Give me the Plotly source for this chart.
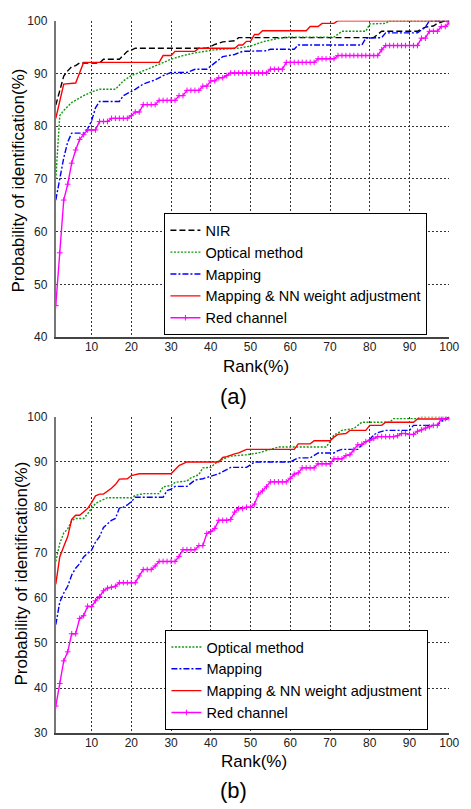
import plotly.graph_objects as go

FONT = "Arial, 'Liberation Sans', sans-serif"

# ---------------- Panel (a) ----------------
a_nir_x = [1, 2, 3, 4, 5, 6, 7, 12, 13, 17, 19, 20, 21, 39, 41, 43, 46, 47, 81, 83, 92, 94, 96, 97, 99, 100]
a_nir_y = [84, 87, 89.5, 90.5, 91.3, 91.5, 92, 92, 92.7, 92.7, 94.2, 94.4, 94.8, 94.8, 95.5, 96, 96.2, 96.8, 96.8, 98, 98, 98.8, 99, 99.5, 100, 100]

a_opt_x = [1, 2, 3, 5, 8, 10, 12, 16, 18, 20, 24, 27, 30, 33, 36, 41, 47, 50, 53, 56, 59, 71, 73, 79, 80, 84, 85, 100]
a_opt_y = [70, 82, 83, 84.5, 85.8, 86.5, 87, 87, 88.6, 89.6, 90.8, 91.7, 92.7, 93.4, 93.9, 94.5, 94.8, 95.2, 96, 96.5, 96.9, 96.9, 98, 98, 99.4, 99.5, 100, 100]

a_map_x = [1, 2, 3, 4, 5, 8, 9, 10, 11, 12, 17, 18, 19, 21, 23, 26, 28, 30, 34, 36, 39, 41, 43, 46, 48, 54, 55, 61, 62, 78, 79, 83, 84, 92, 94, 95, 100]
a_map_y = [66, 70, 74, 77, 78.7, 78.7, 79.5, 81, 83.5, 84.7, 84.7, 85.8, 86.2, 87, 88, 88.8, 89.6, 90.2, 90.2, 90.8, 90.8, 92, 93.2, 93.6, 94.2, 94.3, 94.6, 94.6, 95.4, 95.4, 96.7, 96.8, 97.7, 97.7, 98.8, 100, 100]

a_nn_x = [1, 2, 3, 6, 7, 8, 27, 28, 30, 31, 36, 37, 46, 47, 48, 49, 50, 51, 52, 53, 64, 65, 67, 68, 71, 72, 100]
a_nn_y = [81.5, 85, 88, 88.2, 90.2, 92.1, 92.1, 93.4, 93.4, 94.2, 94.2, 94.8, 94.8, 95.4, 95.4, 96.1, 96.1, 97.4, 97.4, 98.1, 98.1, 98.9, 98.9, 99.5, 99.5, 100, 100]

rank_x = list(range(1, 101))
a_red_y = [46, 56, 66, 69, 73, 75.5, 77.5, 78.4, 79.3, 79.3,
           79.3, 80.9, 80.9, 80.9, 81.5, 81.5, 81.5, 81.5, 81.5, 82,
           82.7, 82.7, 84.1, 84.1, 84.1, 84.1, 84.9, 84.9, 84.9, 84.9,
           84.9, 85.8, 85.8, 86.8, 86.8, 86.8, 86.8, 87.6, 87.6, 88.6,
           88.6, 89.2, 89.2, 89.6, 90.1, 90.1, 90.1, 90.1, 90.1, 90.1,
           90.1, 90.1, 90.1, 90.1, 90.8, 90.8, 90.8, 90.8, 92.1, 92.1,
           92.1, 92.1, 92.1, 92.1, 92.1, 92.1, 92.8, 92.8, 92.8, 92.8,
           92.8, 93.4, 93.4, 93.4, 93.4, 93.4, 93.4, 93.4, 93.4, 93.4,
           93.4, 93.4, 94.5, 95.3, 95.3, 95.3, 95.3, 95.3, 95.3, 95.3,
           95.3, 95.3, 96.7, 96.7, 98, 98, 98, 98.9, 98.9, 99.6]

# ---------------- Panel (b) ----------------
b_opt_x = [1, 2, 3, 4, 5, 6, 8, 9, 10, 11, 12, 14, 20, 21, 23, 27, 28, 30, 31, 34, 35, 37, 38, 40, 41, 42, 44, 45, 49, 52, 55, 57, 69, 70, 71, 72, 73, 76, 77, 78, 85, 86, 92, 93, 100]
b_opt_y = [68, 72, 74.3, 75.2, 77, 77.5, 77.5, 78.5, 79.8, 80.8, 81.3, 82.1, 82.1, 82.6, 83, 83, 84.5, 84.8, 85.5, 85.8, 86.5, 87.2, 88.7, 88.8, 89.6, 90.2, 91, 91.3, 91.6, 92, 92.8, 93.3, 93.3, 94.5, 96, 96.4, 97, 97.4, 98.1, 98.8, 98.8, 99.6, 99.6, 100, 100]

b_map_x = [1, 2, 3, 4, 5, 6, 7, 8, 9, 10, 11, 12, 13, 14, 15, 16, 17, 18, 19, 20, 21, 28, 29, 30, 31, 34, 35, 36, 38, 40, 42, 44, 45, 49, 50, 51, 60, 61, 62, 65, 67, 71, 72, 73, 77, 78, 80, 81, 82, 84, 90, 91, 97, 98, 100]
b_map_y = [54, 59, 61, 62.5, 65, 66.5, 67.5, 69, 69.8, 70.5, 72.3, 73.5, 75.5, 76.3, 77.1, 77.5, 79.8, 80, 80.5, 81.2, 82.2, 82.2, 83.7, 84, 84.6, 84.6, 85.3, 86, 86.3, 86.8, 87.4, 88.3, 88.8, 88.8, 89.5, 90, 90, 90.5, 90.9, 90.9, 92, 92, 92.5, 92.8, 92.8, 93.8, 95, 96, 96.5, 97, 97, 98.1, 98.1, 99, 99.7]

b_nn_x = [1, 2, 3, 4, 5, 6, 7, 9, 10, 11, 12, 13, 15, 16, 17, 19, 20, 22, 30, 31, 32, 34, 42, 43, 44, 46, 47, 49, 61, 62, 65, 66, 70, 71, 72, 74, 75, 79, 80, 83, 84, 91, 92, 99, 100]
b_nn_y = [63, 69, 71.3, 73.5, 77.3, 78.2, 78.2, 79.7, 81, 82.5, 82.9, 82.9, 84.2, 85, 86.2, 86.3, 87, 87.4, 87.4, 88.3, 89.2, 90, 90, 91, 91.2, 91.8, 92, 92.8, 92.8, 94, 94, 94.7, 94.7, 95.5, 96.1, 96.3, 97, 97, 98.1, 98.1, 98.8, 98.8, 99.5, 99.5, 100]

b_red_y = [36, 41, 46, 48, 52, 52, 55.4, 56, 58.1, 58,
           59.3, 60.2, 61.5, 62.1, 62.3, 62.5, 63.3, 63.3, 63.3, 63.3,
           63.3, 64.8, 66.2, 66.2, 66.2, 67, 68, 68, 68, 68,
           68, 69.1, 70.6, 70.6, 70.6, 70.6, 71.5, 71.5, 74.2, 74.6,
           75.3, 77.1, 77.1, 77.1, 77.3, 78.9, 79.7, 79.7, 80, 80,
           80.7, 82.9, 83.6, 84.5, 85.6, 85.6, 85.6, 85.6, 85.6, 86.4,
           87.3, 87.6, 88.7, 88.7, 88.7, 88.7, 89.6, 89.6, 89.6, 89.6,
           90.7, 90.7, 90.7, 91.4, 91.6, 92.7, 93.8, 93.9, 94.5, 94.8,
           95.2, 95.6, 95.6, 95.6, 95.6, 95.6, 95.8, 96.3, 96.3, 96.1,
           96.1, 96.8, 97.1, 97.5, 97.8, 98.1, 98.1, 99.6, 99.6, 99.6]

x_ticks = [10, 20, 30, 40, 50, 60, 70, 80, 90, 100]
a_y_ticks = [40, 50, 60, 70, 80, 90, 100]
b_y_ticks = [30, 40, 50, 60, 70, 80, 90, 100]

names = {
    "nir": "NIR",
    "opt": "Optical method",
    "map": "Mapping",
    "nn": "Mapping & NN weight adjustment",
    "red": "Red channel",
}

W, H = 471, 809
LW = 1.4

def line_trace(x, y, name, color, dash, xa, ya, legend):
    return go.Scatter(x=x, y=y, name=name, mode="lines",
                      line=dict(color=color, width=LW, dash=dash),
                      xaxis=xa, yaxis=ya, legend=legend)

def red_trace(x, y, xa, ya, legend):
    return go.Scatter(x=x, y=y, name=names["red"], mode="lines+markers",
                      line=dict(color="#ff00ff", width=LW),
                      marker=dict(symbol="cross-thin", size=4,
                                  line=dict(color="#ff00ff", width=1)),
                      xaxis=xa, yaxis=ya, legend=legend)

GREEN = "#119911"
BLUE = "#0000ff"
RED = "#ff0000"
NIR_DASH = "6px,3px"
OPT_DASH = "2px,1.5px"
MAP_DASH = "6px,2px,2px,2px"

fig = go.Figure()
fig.add_trace(line_trace(a_nir_x, a_nir_y, names["nir"], "#000000", NIR_DASH, "x", "y", "legend"))
fig.add_trace(line_trace(a_opt_x, a_opt_y, names["opt"], GREEN, OPT_DASH, "x", "y", "legend"))
fig.add_trace(line_trace(a_map_x, a_map_y, names["map"], BLUE, MAP_DASH, "x", "y", "legend"))
fig.add_trace(line_trace(a_nn_x, a_nn_y, names["nn"], RED, "solid", "x", "y", "legend"))
fig.add_trace(red_trace(rank_x, a_red_y, "x", "y", "legend"))

fig.add_trace(line_trace(b_opt_x, b_opt_y, names["opt"], GREEN, OPT_DASH, "x2", "y2", "legend2"))
fig.add_trace(line_trace(b_map_x, b_map_y, names["map"], BLUE, MAP_DASH, "x2", "y2", "legend2"))
fig.add_trace(line_trace(b_nn_x, b_nn_y, names["nn"], RED, "solid", "x2", "y2", "legend2"))
fig.add_trace(red_trace(rank_x, b_red_y, "x2", "y2", "legend2"))

def px_x(p):
    return p / W

def px_y(p):
    return 1 - p / H

tickfont = dict(family=FONT, size=12, color="#222222")
common_x = dict(range=[1, 100], tickvals=x_ticks, showgrid=True, gridcolor="#333333",
                griddash="2px,2px", gridwidth=1, showline=True, linecolor="#444444",
                linewidth=1.5, ticks="", zeroline=False, tickfont=tickfont,
                ticklabelstandoff=-2)
common_y = dict(showgrid=True, gridcolor="#333333", griddash="2px,2px", gridwidth=1,
                showline=True, linecolor="#777777", linewidth=2, ticks="",
                zeroline=False, tickfont=tickfont, ticklabelstandoff=4)

legend_common = dict(xanchor="left", yanchor="top", bordercolor="black", borderwidth=1,
                     bgcolor="white", font=dict(family=FONT, size=14.5, color="black"),
                     tracegroupgap=0, itemwidth=30)

fig.update_layout(
    width=W, height=H, autosize=False,
    margin=dict(l=0, r=0, t=0, b=0),
    paper_bgcolor="white", plot_bgcolor="white",
    font=dict(family=FONT, color="black"),
    xaxis=dict(domain=[px_x(57), px_x(459)], anchor="y", **common_x),
    yaxis=dict(domain=[px_y(336), px_y(14)], anchor="x", range=[40, 100],
               tickvals=a_y_ticks, **common_y),
    xaxis2=dict(domain=[px_x(57), px_x(459)], anchor="y2", **common_x),
    yaxis2=dict(domain=[px_y(739), px_y(417)], anchor="x2", range=[30, 100],
                tickvals=b_y_ticks, **common_y),
    legend=dict(x=px_x(168), y=px_y(210), **legend_common),
    legend2=dict(x=px_x(169), y=px_y(634), **legend_common),
    showlegend=True,
)

ann_font = dict(family=FONT, size=17, color="black")
annotations = [
    dict(text="Rank(%)", x=px_x(262), y=px_y(366), font=ann_font),
    dict(text="(a)", x=px_x(239), y=px_y(396), font=dict(family=FONT, size=22, color="black")),
    dict(text="Probability of identification(%)", x=px_x(19), y=px_y(177), textangle=-90, font=ann_font),
    dict(text="Rank(%)", x=px_x(260), y=px_y(768), font=ann_font),
    dict(text="(b)", x=px_x(239), y=px_y(797), font=dict(family=FONT, size=22, color="black")),
    dict(text="Probability of identification(%)", x=px_x(21), y=px_y(577), textangle=-90, font=ann_font),
]
for a in annotations:
    a.update(xref="paper", yref="paper", showarrow=False, xanchor="center", yanchor="middle")
fig.update_layout(annotations=annotations)

fig.write_html(
    "out.html",
    config={"displayModeBar": False},
    post_script="document.body.style.margin='0';document.body.style.overflow='hidden';"
                "document.documentElement.style.overflow='hidden';",
)
